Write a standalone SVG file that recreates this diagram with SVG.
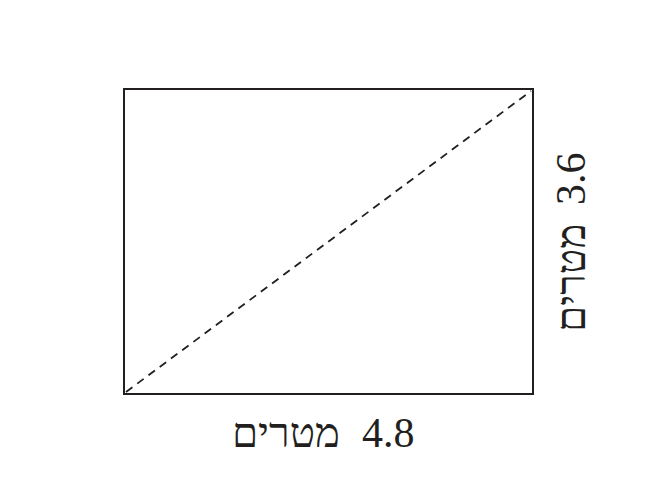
<svg xmlns="http://www.w3.org/2000/svg" width="660" height="480" viewBox="0 0 660 480">
<style>
.edge{fill:none;stroke:#231f20;stroke-width:2}
.dash{fill:none;stroke:#231f20;stroke-width:1.8;stroke-dasharray:8 6}
.lbl{font-family:"Liberation Serif","DejaVu Serif",serif;font-size:42px;fill:#231f20}
</style>
<rect width="660" height="480" fill="#fff"/>
<g id="rectangle">
<rect class="edge" x="124" y="89" width="409" height="305"/>
</g>
<g id="connectors">
<line class="dash" x1="126" y1="392" x2="531" y2="91"/>
</g>
<g id="label-width">
<text class="lbl" x="340" y="447" text-anchor="end">מטרים</text>
<text class="lbl" x="362" y="447">4.8</text>
</g>
<g id="label-height" transform="translate(585,243) rotate(-90)">
<text class="lbl" x="-35" y="0" text-anchor="middle">מטרים</text>
<text class="lbl" x="38" y="0">3.6</text>
</g>
</svg>
